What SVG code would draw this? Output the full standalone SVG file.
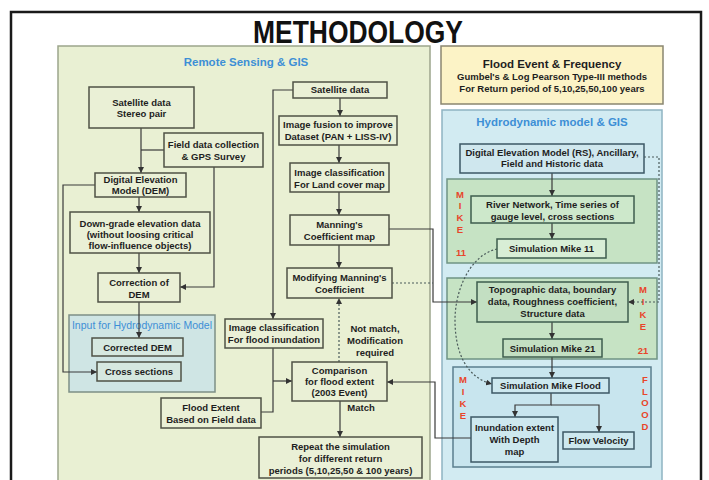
<svg xmlns="http://www.w3.org/2000/svg" width="709" height="480" viewBox="0 0 709 480">
<defs>
<marker id="ah" viewBox="0 0 6 6" refX="6" refY="3" markerWidth="6" markerHeight="6" markerUnits="userSpaceOnUse" orient="auto"><path d="M0,0 L6,3 L0,6 z" fill="#333"/></marker>
<style>
text{font-family:"Liberation Sans",Arial,sans-serif;font-weight:bold;fill:#1e1e1e;text-anchor:middle;font-size:9.5px}
.box{fill:#eaf0d6;stroke:#4f5246;stroke-width:1.5}
.gbox{fill:#cde8cb;stroke:#3e5d4e;stroke-width:1.5}
.bbox{fill:#cde8ef;stroke:#3d5866;stroke-width:1.5}
.ttl{font-size:11.5px}
.blue{fill:#3d8fd6}
.red{fill:#e8452a;font-size:9.5px}
.c{fill:none;stroke:#3a3a3a;stroke-width:1.2}
.d{fill:none;stroke:#4a5a5a;stroke-width:1.2;stroke-dasharray:2 2}
</style>
</defs>
<rect x="0" y="0" width="709" height="480" fill="#fff"/>
<rect x="11" y="12" width="690" height="480" fill="#fff" stroke="#1a1a1a" stroke-width="2.5"/>
<text x="358" y="43" textLength="210" lengthAdjust="spacingAndGlyphs" style="font-size:32px;fill:#111">METHODOLOGY</text>

<g id="panel-rs">
<rect x="58" y="46" width="372" height="450" fill="#e9f0d3" stroke="#9ca58c" stroke-width="1.5"/>
<text x="246" y="66" class="ttl blue">Remote Sensing &amp; GIS</text>
</g>
<g id="panel-flood-event">
<rect x="441" y="46" width="222" height="58" fill="#fcf3c6" stroke="#8a8670" stroke-width="1.5"/>
<text x="552" y="68" class="ttl">Flood Event &amp; Frequency</text>
<text x="552" y="79.5">Gumbel's &amp; Log Pearson Type-III methods</text>
<text x="552" y="91.5">For Return period of 5,10,25,50,100 years</text>
</g>
<g id="panel-hydro">
<rect x="442" y="110" width="220" height="385" fill="#d2ebf2" stroke="#8fb4c2" stroke-width="1.5"/>
<text x="552" y="126" class="ttl blue">Hydrodynamic model &amp; GIS</text>
</g>
<g id="panel-mike11">
<rect x="447" y="179" width="210" height="84" fill="#c6e3c4" stroke="#6f9484" stroke-width="1.5"/>
<text x="460" y="198" class="red">M</text><text x="460" y="209" class="red">I</text><text x="460" y="221" class="red">K</text><text x="460" y="233" class="red">E</text><text x="461" y="256" class="red">11</text>
</g>
<g id="panel-mike21">
<rect x="447" y="278" width="210" height="81" fill="#c6e3c4" stroke="#6f9484" stroke-width="1.5"/>
<text x="643" y="293" class="red">M</text><text x="643" y="305" class="red">I</text><text x="643" y="318" class="red">K</text><text x="643" y="330" class="red">E</text><text x="643" y="354" class="red">21</text>
</g>
<g id="panel-mikeflood">
<rect x="453" y="367" width="198" height="100" fill="#c8e5ee" stroke="#5b7f8e" stroke-width="1.5"/>
<text x="463" y="383" class="red">M</text><text x="463" y="395" class="red">I</text><text x="463" y="407" class="red">K</text><text x="463" y="419" class="red">E</text>
<text x="645" y="383" class="red">F</text><text x="645" y="395" class="red">L</text><text x="645" y="406" class="red">O</text><text x="645" y="418" class="red">O</text><text x="645" y="430" class="red">D</text>
</g>
<g id="panel-input">
<rect x="69" y="315" width="146" height="77" fill="#cfe5e4" stroke="#7d8f86" stroke-width="1.5"/>
<text x="142" y="328.7" class="blue" style="font-weight:normal;font-size:10.5px">Input for Hydrodynamic Model</text>
</g>

<g id="connectors">
<path class="c" d="M141,128 V173" marker-end="url(#ah)"/>
<path class="c" d="M164,150 H141"/>
<path class="c" d="M95,185 H63 V372 H97" marker-end="url(#ah)"/>
<path class="c" d="M139,197 V212" marker-end="url(#ah)"/>
<path class="c" d="M139,253 V273" marker-end="url(#ah)"/>
<path class="c" d="M214,167 V287 H180" marker-end="url(#ah)"/>
<path class="c" d="M139,302 V338" marker-end="url(#ah)"/>
<path class="c" d="M293,90 H273 V319" marker-end="url(#ah)"/>
<path class="c" d="M340,98 V116" marker-end="url(#ah)"/>
<path class="c" d="M339,145 V163" marker-end="url(#ah)"/>
<path class="c" d="M339,192 V215" marker-end="url(#ah)"/>
<path class="c" d="M339,245 V268" marker-end="url(#ah)"/>
<path class="c" d="M389,229 H433 V302 H477" marker-end="url(#ah)"/>
<path class="d" d="M392,283 H433"/>
<path class="d" d="M339,362 V298" marker-end="url(#ah)"/>
<path class="c" d="M273,348 V412 H261"/>
<path class="c" d="M273,381 H292" marker-end="url(#ah)"/>
<path class="c" d="M340,401 V437" marker-end="url(#ah)"/>
<path class="c" d="M471,438 H435 V382 H387" marker-end="url(#ah)"/>
<path class="c" d="M552,173 V196" marker-end="url(#ah)"/>
<path class="c" d="M552,223 V239" marker-end="url(#ah)"/>
<path class="d" d="M644,157 H659 V302 H628" marker-end="url(#ah)"/>
<path class="c" d="M552,322 V339" marker-end="url(#ah)"/>
<path class="c" d="M552,357 V378" marker-end="url(#ah)"/>
<path class="d" d="M497,249 C470,255 455,290 455,320 C455,355 468,378 492,384" marker-end="url(#ah)"/>
<path class="c" d="M551,393 V405 H515 V417" marker-end="url(#ah)"/>
<path class="c" d="M551,405 H599 V432" marker-end="url(#ah)"/>
</g>

<g id="sat-stereo"><rect class="box" x="89" y="87" width="105" height="41"/><text x="141.5" y="105.5">Satellite data</text><text x="141.5" y="116.5">Stereo pair</text></g>
<g id="field-data"><rect class="box" x="164" y="133" width="99" height="34"/><text x="213.5" y="147.5">Field data collection</text><text x="213.5" y="159.5">&amp; GPS Survey</text></g>
<g id="dem-left"><rect class="box" x="95" y="173" width="91" height="24"/><text x="140.5" y="182.5">Digital Elevation</text><text x="140.5" y="194">Model (DEM)</text></g>
<g id="downgrade"><rect class="box" x="70" y="212" width="140" height="41"/><text x="140" y="226.5">Down-grade elevation data</text><text x="140" y="237.5">(without loosing critical</text><text x="140" y="248.5">flow-influence objects)</text></g>
<g id="correction"><rect class="box" x="98" y="273" width="82" height="29"/><text x="139" y="285.5">Correction of</text><text x="139" y="297.5">DEM</text></g>
<g id="corrected-dem"><rect class="box" x="92" y="338" width="91" height="18" style="fill:#d6e8e0"/><text x="137.5" y="350.5">Corrected DEM</text></g>
<g id="cross-sections"><rect class="box" x="97" y="362" width="84" height="19" style="fill:#d6e8e0"/><text x="139" y="375">Cross sections</text></g>
<g id="flood-extent-field"><rect class="box" x="161" y="398" width="100" height="30"/><text x="211" y="410.5">Flood Extent</text><text x="211" y="422.5">Based on Field data</text></g>
<g id="sat-data"><rect class="box" x="293" y="82" width="94" height="16"/><text x="340" y="93.4">Satellite data</text></g>
<g id="fusion"><rect class="box" x="279" y="116" width="118" height="29"/><text x="338" y="128.4">Image fusion to improve</text><text x="338" y="140.4">Dataset (PAN + LISS-IV)</text></g>
<g id="landcover"><rect class="box" x="290" y="163" width="99" height="29"/><text x="339.5" y="175.5">Image classification</text><text x="339.5" y="187.5">For Land cover map</text></g>
<g id="manning-map"><rect class="box" x="290" y="215" width="99" height="30"/><text x="339.5" y="227.5">Manning's</text><text x="339.5" y="239.5">Coefficient map</text></g>
<g id="modifying"><rect class="box" x="287" y="268" width="105" height="30"/><text x="339.5" y="280.5">Modifying Manning's</text><text x="339.5" y="292.5">Coefficient</text></g>
<g id="flood-inundation-class"><rect class="box" x="225" y="319" width="98" height="29"/><text x="274" y="331.4">Image classification</text><text x="274" y="343.4">For flood inundation</text></g>
<g id="comparison"><rect class="box" x="292" y="362" width="95" height="39"/><text x="339.5" y="374.4">Comparison</text><text x="339.5" y="385.4">for flood extent</text><text x="339.5" y="396.4">(2003 Event)</text></g>
<g id="repeat"><rect class="box" x="259" y="437" width="163" height="41"/><text x="340.5" y="450.4">Repeat the simulation</text><text x="340.5" y="462">for different return</text><text x="340.5" y="473.5">periods (5,10,25,50 &amp; 100 years)</text></g>
<g id="labels"><text x="375" y="332.4">Not match,</text><text x="375" y="344.4">Modification</text><text x="375" y="356.4">required</text><text x="361" y="411.4">Match</text></g>

<g id="dem-right"><rect class="bbox" x="460" y="144" width="184" height="29" style="fill:#cfe7ee"/><text x="552" y="156.4">Digital Elevation Model (RS), Ancillary,</text><text x="552" y="167.4">Field and Historic data</text></g>
<g id="river"><rect class="gbox" x="471" y="196" width="163" height="27"/><text x="552.5" y="208.4">River Network, Time series of</text><text x="552.5" y="220.4">gauge level, cross sections</text></g>
<g id="sim11"><rect class="gbox" x="497" y="239" width="109" height="19" style="fill:#d8eed6"/><text x="551.5" y="252.4">Simulation  Mike 11</text></g>
<g id="topo"><rect class="gbox" x="477" y="282" width="151" height="40" style="fill:#c3dfc2"/><text x="552.5" y="293.4">Topographic data, boundary</text><text x="552.5" y="305.4">data, Roughness  coefficient,</text><text x="552.5" y="317">Structure data</text></g>
<g id="sim21"><rect class="gbox" x="503" y="339" width="99" height="18" style="fill:#c3dfc2"/><text x="552.5" y="351.9">Simulation Mike 21</text></g>
<g id="simflood"><rect class="bbox" x="492" y="378" width="117" height="15"/><text x="550.5" y="388.9">Simulation Mike Flood</text></g>
<g id="inundation"><rect class="bbox" x="471" y="417" width="87" height="45"/><text x="514.5" y="431.4">Inundation extent</text><text x="514.5" y="443.4">With Depth</text><text x="514.5" y="455.4">map</text></g>
<g id="flowvel"><rect class="bbox" x="563" y="432" width="71" height="17"/><text x="598.5" y="443.9">Flow Velocity</text></g>
</svg>
